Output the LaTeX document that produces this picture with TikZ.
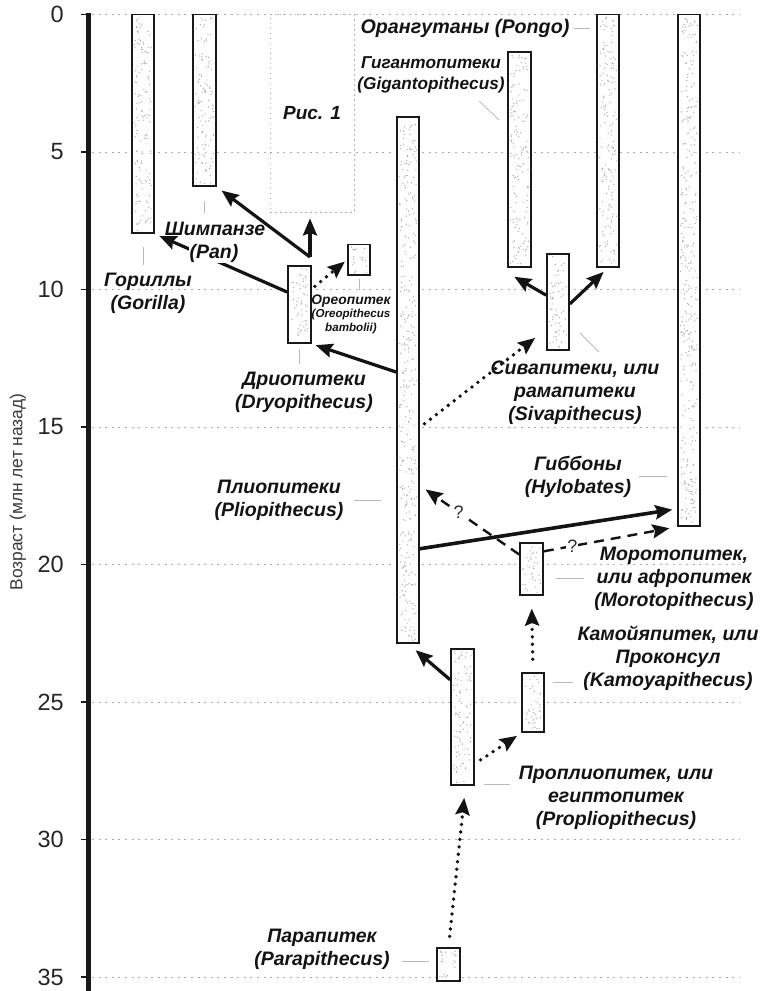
\documentclass[tikz,border=0pt]{standalone}
\usepackage{fontspec}
\setmainfont{Liberation Sans}
\usetikzlibrary{arrows.meta,fit,calc}

\tikzset{
	agegrid/.style={gray!65, line width=0.9pt, dash pattern=on 2pt off 4.6pt},
	axistick/.style={gray!20!black, line width=1.2pt},
	axisbar/.style={gray!20!black, line width=4.5pt},
	agenum/.style={anchor=east, inner sep=0pt, text=gray!30!black, font=\fontsize{23.5pt}{24pt}\selectfont},
	agetitle/.style={text=gray!45!black, font=\fontsize{17.4pt}{18pt}\selectfont},
	taxon/.style={draw=gray!20!black, line width=1.6pt, inner sep=0pt, fill=white},
	stipple/.style={fill=gray!65},
	figbox/.style={draw=gray!60, line width=0.9pt, dash pattern=on 1.5pt off 3.5pt,
		minimum width=84pt, minimum height=198pt, text=gray!15!black,
		font=\bfseries\itshape\fontsize{19pt}{23pt}\selectfont},
	evol/.style={-{Stealth[length=17pt, width=14pt, inset=2.5pt]}, line width=3.2pt, gray!15!black},
	maybe/.style={evol, line width=2.4pt, dash pattern=on 10pt off 7pt},
	guess/.style={evol, line width=3.8pt, line cap=round, dash pattern=on 0pt off 7.5pt},
	qmark/.style={fill=white, inner sep=1pt, text=gray!35!black, font=\fontsize{18pt}{18pt}\selectfont},
	leader/.style={gray!55, line width=0.8pt},
	taxname/.style={align=center, inner sep=1pt, text=gray!15!black,
		font=\bfseries\itshape\fontsize{19.5pt}{23pt}\selectfont},
}

% bar of a time range, x in pt, y in million years, with a stippled fill
\newcommand{\taxonbar}[5]{%
	\node[taxon, fit={(#2,#3) (#4,#5)}] (#1) {};
	\pgfmathtruncatemacro{\ndots}{(#4-#2)*(#5-#3)*27.5/34}
	\foreach \k in {1,...,\ndots}
		\fill[stipple] ({#2+2.5+rnd*(#4-#2-5)},{#3+0.09+rnd*(#5-#3-0.18)}) circle (0.7pt);
}

\begin{document}
\begin{tikzpicture}[x=1pt, y=-27.5pt]
	\useasboundingbox (0,-0.5273) rectangle (763,35.509);
	\pgfmathsetseed{7}

	% age scale, million years
	\foreach \age in {0,5,...,35} {
		\draw[agegrid] (92,\age) -- (740,\age);
		\draw[axistick] (81,\age) -- (89,\age);
		\node[agenum] (age\age) at (64,\age) {\age};
	}
	\draw[axisbar] (88.5,-0.04) -- (88.5,35.6);
	\node[agetitle, rotate=90] (agelabel) at (18,17.36) {Возраст (млн лет назад)};

	% time ranges
	\node[figbox] (fig) at (312,3.58) {Рис. 1};
	\taxonbar{gorilla}{132}{0}{154}{7.95}
	\taxonbar{pan}{193}{0}{216}{6.24}
	\taxonbar{dryo}{288}{9.15}{311}{11.95}
	\taxonbar{oreo}{348}{8.36}{370}{9.47}
	\taxonbar{plio}{397}{3.73}{419}{22.85}
	\taxonbar{giganto}{508}{1.36}{531}{9.18}
	\taxonbar{orang}{597}{0}{619}{9.18}
	\taxonbar{gibbon}{678}{0}{700}{18.6}
	\taxonbar{siva}{547}{8.71}{569}{12.2}
	\taxonbar{moroto}{520}{19.22}{543}{21.1}
	\taxonbar{kamoya}{522}{23.95}{544}{26.1}
	\taxonbar{proplio}{451}{23.07}{474}{28.02}
	\taxonbar{para}{437}{33.95}{460}{35.15}

	% descent
	\coordinate (fork) at (310,8.82);
	\draw[evol, shorten >=5pt] ($(dryo.north west)!0.34!(dryo.south west)$) -- (gorilla.south east);
	\draw[evol, shorten >=6pt] (fork) -- (pan.south east);
	\draw[evol, shorten >=6pt] (fork) -- (fork |- fig.south);
	\draw[guess, shorten <=4pt, shorten >=3pt] ($(dryo.north east)!0.3!(dryo.south east)$) -- (oreo.west);
	\draw[evol, shorten >=4pt] ($(plio.north west)!0.485!(plio.south west)$) -- (dryo.south east);
	\draw[guess, shorten <=6pt, shorten >=14pt] ($(plio.north east)!0.59!(plio.south east)$) -- ($(siva.north west)!0.78!(siva.south west)$);
	\draw[evol] ($(siva.north west)!0.43!(siva.south west)$) -- ([shift={(7pt,-9pt)}]giganto.south west);
	\draw[evol, shorten >=6pt] ($(siva.north east)!0.52!(siva.south east)$) -- (orang.south);
	\draw[evol, line width=3.6pt, shorten >=5pt] ($(plio.north east)!0.82!(plio.south east)$) -- ($(gibbon.north west)!0.965!(gibbon.south west)$);
	\draw[maybe, shorten >=7pt] ($(moroto.north west)!0.23!(moroto.south west)$) -- node[qmark, pos=0.61] (q1) {?} ($(plio.north east)!0.70!(plio.south east)$);
	\draw[maybe, shorten >=8pt] ($(moroto.north east)!0.17!(moroto.south east)$) -- node[qmark, pos=0.215] (q2) {?} (gibbon.south west);
	\draw[guess, shorten <=13pt, shorten >=13pt] (kamoya.north) -- (moroto.south);
	\draw[evol, shorten >=10pt] ($(proplio.north west)!0.23!(proplio.south west)$) -- (plio.south);
	\draw[guess, shorten <=7pt, shorten >=5pt] ($(proplio.north east)!0.84!(proplio.south east)$) -- (kamoya.south west);
	\draw[guess, shorten <=11pt, shorten >=12pt] (para.north) -- ([xshift=3pt]proplio.south);

	% names
	\node[taxname] (gorillaL) at (148,10.15) {Гориллы\\(Gorilla)};
	\node[taxname] (panL) at (215,7.8) {Шимпанзе};
	\node[taxname, fill=white] (panLat) at (214,8.68) {(Pan)};
	\node[taxname, font=\bfseries\itshape\fontsize{13.8pt}{13.5pt}\selectfont] (oreoL) at (351,10.9)
		{Ореопитек\\{\fontsize{11.6pt}{13.5pt}\selectfont (Oreopithecus}\\{\fontsize{11.6pt}{13.5pt}\selectfont bambolii)}};
	\node[taxname] (dryoL) at (304,13.75) {Дриопитеки\\(Dryopithecus)};
	\node[taxname] (plioL) at (279,17.66) {Плиопитеки\\(Pliopithecus)};
	\node[taxname, font=\bfseries\itshape\fontsize{19.7pt}{23pt}\selectfont] (orangL) at (465,0.52) {Орангутаны (Pongo)};
	\node[taxname, font=\bfseries\itshape\fontsize{17.2pt}{21pt}\selectfont] (gigantoL) at (431,2.2) {Гигантопитеки\\(Gigantopithecus)};
	\node[taxname] (sivaL) at (575,13.75) {Сивапитеки, или\\рамапитеки\\(Sivapithecus)};
	\node[taxname] (gibbonL) at (578,16.8) {Гиббоны\\(Hylobates)};
	\node[taxname] (morotoL) at (674,20.52) {Моротопитек,\\или афропитек\\(Morotopithecus)};
	\node[taxname] (kamoyaL) at (668,23.4) {Камойяпитек, или\\Проконсул\\(Kamoyapithecus)};
	\node[taxname] (proplioL) at (616,28.5) {Проплиопитек, или\\египтопитек\\(Propliopithecus)};
	\node[taxname] (paraL) at (322,34.0) {Парапитек\\(Parapithecus)};

	% leaders
	\draw[leader, shorten <=13pt, shorten >=7pt] (gorilla.south) -- (gorilla.south |- gorillaL.north);
	\draw[leader, shorten <=14pt, shorten >=8pt] (pan.south) -- (pan.south |- panL.north);
	\draw[leader, shorten <=5pt, shorten >=7pt] (dryo.south) -- (dryo.south |- dryoL.north);
	\draw[leader, shorten <=3pt, shorten >=4pt] (oreo.south) -- (oreo.south |- oreoL.north);
	\draw[leader, shorten <=9pt, shorten >=15pt] (plioL.east) -- (plioL.east -| plio.west);
	\draw[leader, shorten <=3pt, shorten >=6pt] (orangL.east) -- (orangL.east -| orang.west);
	\draw[leader] ([shift={(-28pt,-50pt)}]giganto.north west) -- ++(20pt,-19pt);
	\draw[leader] ([shift={(10pt,18pt)}]siva.south east) -- ++(19pt,-19pt);
	\draw[leader, shorten <=7pt, shorten >=10pt] (gibbonL.east) -- (gibbonL.east -| gibbon.west);
	\draw[leader, shorten <=9pt, shorten >=12pt] (morotoL.west) -- (morotoL.west -| moroto.east);
	\coordinate (kamoyaTip) at ([yshift=-24pt]kamoyaL.west);
	\draw[leader, shorten <=3pt, shorten >=8pt] (kamoyaTip) -- (kamoyaTip -| kamoya.east);
	\coordinate (proplioTip) at ([yshift=14pt]proplioL.west);
	\draw[leader, shorten <=8pt, shorten >=9pt] (proplioTip) -- (proplioTip -| proplio.east);
	\coordinate (paraTip) at ([yshift=-11.5pt]paraL.east);
	\draw[leader, shorten <=11pt, shorten >=7pt] (paraTip) -- (paraTip -| para.west);
\end{tikzpicture}
\end{document}
